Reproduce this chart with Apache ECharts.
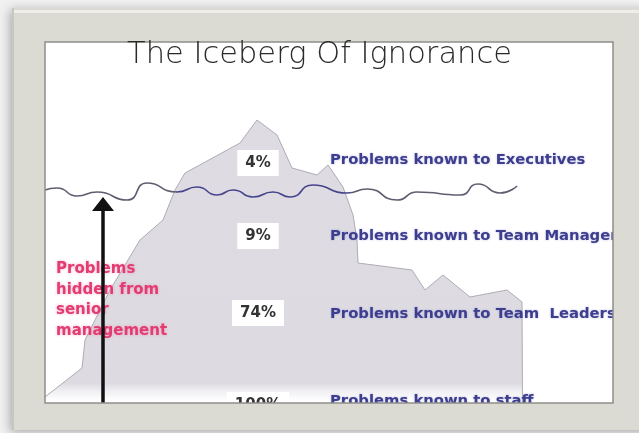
<!DOCTYPE html>
<html>
<head>
<meta charset="utf-8">
<script src="https://cdn.jsdelivr.net/npm/echarts@6/dist/echarts.min.js"></script>
<style>html,body{margin:0;padding:0;background:#f0f0f0;}#c{width:639px;height:433px;}</style>
</head>
<body>
<div id="c"></div>
<script>
// ---- data ----
const titleText = 'The Iceberg Of Ignorance';
// iceberg outline (horizontal position, depth)
const icebergX = [45, 82, 85, 110, 140, 163, 175, 185, 240, 257, 277, 292, 317, 328, 343, 353, 357, 358, 412, 425, 443, 470, 507, 522, 522.5];
const icebergY = [397, 368, 340, 290, 240, 220, 190, 173, 143, 120, 135, 168, 175, 165, 187, 215, 240, 263, 270, 290, 275, 297, 290, 302, 403];
// waterline
const waterX = [45, 57, 77, 97, 127, 147, 177, 197, 217, 233, 253, 273, 290, 313, 347, 367, 397, 417, 460, 478, 500, 517];
const waterY = [190, 188, 196, 192, 200, 183, 192, 187, 195, 190, 197, 192, 197, 185, 193, 189, 200, 192, 195, 184, 193, 186];
// arrow
const arrowX = [103, 103];
const arrowY = [403, 204];
// levels
const shareLabels = ['4%', '9%', '74%', '100%'];
const shareDepth = [163, 236, 313, 405];
const groupLabels = ['Problems known to Executives', 'Problems known to Team Managers', 'Problems known to Team  Leaders', 'Problems known to staff'];
const groupDepth = [160, 236, 314, 401];
const hiddenLines = ['Problems', 'hidden from', 'senior', 'management'];

// ---- build ----
const inner = {x: 45, y: 42, w: 568, h: 361};
const shareCol = 258, groupCol = 330;

const chart = echarts.init(document.getElementById('c'), null, {renderer: 'canvas'});

const icebergData = icebergX.map((x, i) => [x, icebergY[i]]);
const waterData = waterX.map((x, i) => [x, waterY[i]]);
const arrowData = arrowX.map((x, i) => i === arrowX.length - 1
  ? {value: [x, arrowY[i]], symbol: 'triangle', symbolSize: [22, 14]}
  : {value: [x, arrowY[i]], symbol: 'none'});

const frame = '#dcdbd3';
const option = {
  backgroundColor: '#f1f1f1',
  animation: false,
  title: {
    text: titleText,
    left: 'center',
    top: 35,
    z: 300,
    textStyle: {fontFamily: 'DejaVu Sans', fontWeight: 200, fontSize: 30.5, color: '#2a2a2a'}
  },
  grid: {left: inner.x, top: inner.y, width: inner.w, height: inner.h, show: false},
  xAxis: {type: 'value', min: inner.x, max: inner.x + inner.w, show: false},
  yAxis: {type: 'value', inverse: true, min: inner.y, max: inner.y + inner.h, show: false},
  visualMap: {
    show: false, type: 'piecewise', seriesIndex: 1, dimension: 0,
    pieces: [
      {lt: 176, color: '#5e5e70'},
      {gte: 176, lte: 350, color: '#45458c'},
      {gt: 350, color: '#5e5e70'}
    ]
  },
  graphic: [
    {type: 'rect', z: -10, shape: {x: 12, y: 8, width: 640, height: 422},
     style: {fill: frame, shadowBlur: 10, shadowColor: 'rgba(0,0,0,0.3)', shadowOffsetX: -2, shadowOffsetY: 2}},
    {type: 'rect', z: -8, shape: {x: inner.x, y: inner.y, width: inner.w, height: inner.h}, style: {fill: '#ffffff'}},
    {type: 'text', z: 3, left: 56, top: 259,
     style: {text: hiddenLines.join('\n'), fontFamily: 'DejaVu Sans', fontWeight: 'bold', fontSize: 15,
             lineHeight: 20.5, fill: '#e23c72', textShadowColor: 'rgba(240,120,160,0.6)', textShadowBlur: 3}},
    // frame strips covering overflow
    {type: 'rect', z: 100, shape: {x: 12, y: 8, width: 640, height: inner.y - 8}, style: {fill: frame}},
    {type: 'rect', z: 100, shape: {x: 12, y: 8, width: inner.x - 12, height: 422}, style: {fill: frame}},
    {type: 'rect', z: 100, shape: {x: inner.x + inner.w, y: 8, width: 40, height: 422}, style: {fill: frame}},
    {type: 'rect', z: 100, shape: {x: 12, y: inner.y + inner.h, width: 640, height: 430 - inner.y - inner.h}, style: {fill: frame}},
    {type: 'rect', z: 101, shape: {x: 14, y: 10, width: 640, height: 3}, style: {fill: '#efeee9'}},
    {type: 'rect', z: 101, shape: {x: 12, y: 8, width: 2, height: 422}, style: {fill: '#c8c7bf'}},
    {type: 'rect', z: 102, shape: {x: inner.x, y: inner.y, width: inner.w, height: inner.h},
     style: {fill: null, stroke: '#8e8e8a', lineWidth: 1.5}}
  ],
  series: [
    {
      name: 'iceberg', type: 'line', data: icebergData, symbol: 'none', z: 2, clip: false,
      lineStyle: {color: '#aeacb4', width: 1},
      areaStyle: {
        origin: 'end', opacity: 1,
        color: new echarts.graphic.LinearGradient(0, 0, 0, 1, [
          {offset: 0, color: '#dedce2'},
          {offset: 0.93, color: '#dddbe1'},
          {offset: 0.975, color: 'rgba(235,234,238,0.4)'},
          {offset: 1, color: 'rgba(255,255,255,0)'}
        ])
      }
    },
    {
      name: 'waterline', type: 'line', data: waterData, symbol: 'none', smooth: 0.6, z: 3,
      lineStyle: {width: 1.7}
    },
    {
      name: 'arrow', type: 'line', data: arrowData, z: 20, clip: false, showSymbol: true,
      lineStyle: {color: '#111111', width: 3.5},
      itemStyle: {color: '#111111'}
    },
    {
      name: 'shares', type: 'scatter', symbolSize: 0, z: 6, clip: false,
      itemStyle: {opacity: 1},
      data: shareLabels.map((t, i) => ({value: [shareCol, shareDepth[i]], name: t})),
      label: {
        show: true, position: 'inside', formatter: p => p.name,
        fontFamily: 'DejaVu Sans', fontWeight: 'bold', fontSize: 15, color: '#333333',
        backgroundColor: '#ffffff', padding: [6, 8, 5, 8]
      }
    },
    {
      name: 'groups', type: 'scatter', symbolSize: 0, z: 6, clip: false,
      itemStyle: {opacity: 1},
      data: groupLabels.map((t, i) => ({value: [groupCol, groupDepth[i]], name: t})),
      label: {
        show: true, position: [0, 0], align: 'left', verticalAlign: 'middle', formatter: p => p.name,
        fontFamily: 'DejaVu Sans', fontWeight: 'bold', fontSize: 14.8, color: '#3e3e8e',
        textShadowColor: 'rgba(110,110,200,0.5)', textShadowBlur: 2
      }
    }
  ]
};
chart.setOption(option);
</script>
</body>
</html>
